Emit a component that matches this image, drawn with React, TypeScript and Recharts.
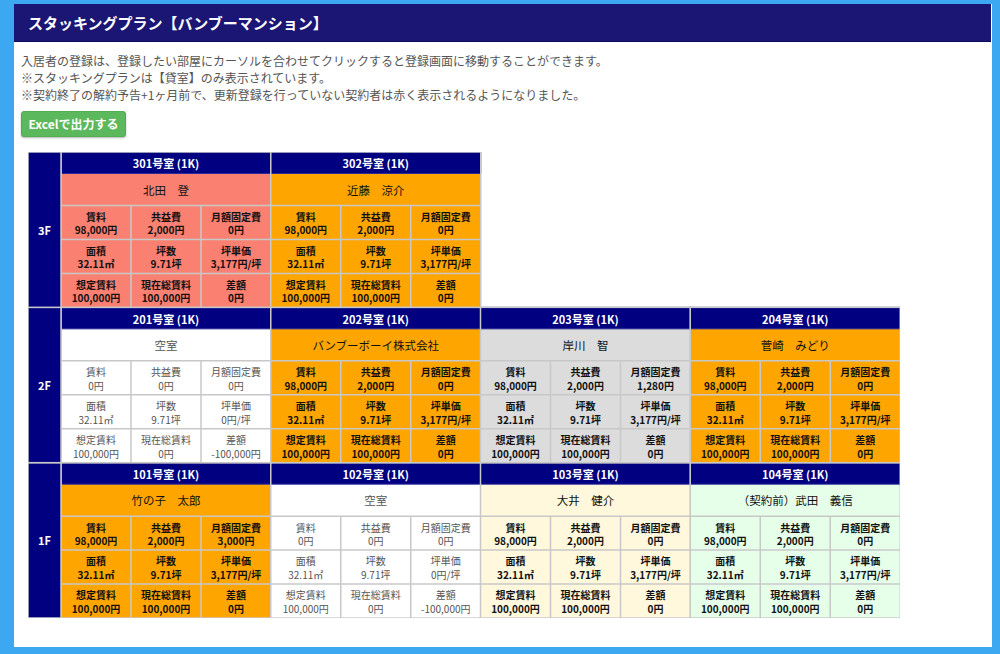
import React from 'react';
import { BarChart, Bar, XAxis, YAxis } from 'recharts';

// ---- data ----
const floorLabels = ['1F', '2F', '3F'];
const columnKeys = ['c1', 'c2', 'c3', 'c4'];

const roomFloor = [3, 3, 2, 2, 2, 2, 1, 1, 1, 1];
const roomCol = [1, 2, 1, 2, 3, 4, 1, 2, 3, 4];
const roomTitles = ['301号室 (1K)', '302号室 (1K)', '201号室 (1K)', '202号室 (1K)', '203号室 (1K)', '204号室 (1K)', '101号室 (1K)', '102号室 (1K)', '103号室 (1K)', '104号室 (1K)'];
const tenants = ['北田　登', '近藤　涼介', '空室', 'バンブーボーイ株式会社', '岸川　智', '菅崎　みどり', '竹の子　太郎', '空室', '大井　健介', '（契約前）武田　義信'];
const statuses = ['alert', 'contract', 'vacant', 'contract', 'other', 'contract', 'contract', 'vacant', 'renewal', 'pre'];
const rents = [98000, 98000, 0, 98000, 98000, 98000, 98000, 0, 98000, 98000];
const commonFees = [2000, 2000, 0, 2000, 2000, 2000, 2000, 0, 2000, 2000];
const fixedFees = [0, 0, 0, 0, 1280, 0, 3000, 0, 0, 0];
const areas = [32.11, 32.11, 32.11, 32.11, 32.11, 32.11, 32.11, 32.11, 32.11, 32.11];
const tsubos = [9.71, 9.71, 9.71, 9.71, 9.71, 9.71, 9.71, 9.71, 9.71, 9.71];
const tsuboPrices = [3177, 3177, 0, 3177, 3177, 3177, 3177, 0, 3177, 3177];
const expectedRents = [100000, 100000, 100000, 100000, 100000, 100000, 100000, 100000, 100000, 100000];
const currentRents = [100000, 100000, 0, 100000, 100000, 100000, 100000, 0, 100000, 100000];
const diffs = [0, 0, -100000, 0, 0, 0, 0, -100000, 0, 0];

const rowLabels = [
  ['賃料', '共益費', '月額固定費'],
  ['面積', '坪数', '坪単価'],
  ['想定賃料', '現在総賃料', '差額'],
];

const statusColors: Record<string, string> = {
  alert: '#FA8072',
  contract: '#FFA500',
  vacant: '#FFFFFF',
  other: '#DCDCDC',
  renewal: '#FFF8DC',
  pre: '#E6FFE9',
};

const chartData = columnKeys.map((c, ci) => {
  const row: any = { col: ci + 1 };
  floorLabels.forEach((_, fi) => {
    const exists = roomFloor.some((f, i) => f === fi + 1 && roomCol[i] === ci + 1);
    row['f' + (fi + 1)] = exists ? 1 : 0;
  });
  return row;
});

// ---- styles ----
const FONT = '"Noto Sans CJK JP", "Noto Sans", sans-serif';
const NAVY = '#000080';
const GRID = '#C8C8C8';
const CHART_W = 872;
const CHART_H = 466;
const YAXIS_W = 33;
const HEADER_H = 21.5;
const NAME_H = 32;

const yen = (v: number) => v.toLocaleString('en-US') + '円';

function RoomBlock(props: any) {
  const { x, y, width, height, payload, floor } = props;
  if (!height || height < 2) return null;
  const idx = roomFloor.findIndex((f, i) => f === floor && roomCol[i] === payload.col);
  if (idx < 0) return null;
  const vacant = statuses[idx] === 'vacant';
  const bg = statusColors[statuses[idx]];
  const txt = vacant ? '#555555' : '#111111';
  const weight = vacant ? 'normal' : 'bold';
  const values = [
    [yen(rents[idx]), yen(commonFees[idx]), yen(fixedFees[idx])],
    [areas[idx].toFixed(2) + '㎡', tsubos[idx].toFixed(2) + '坪', yen(tsuboPrices[idx]) + '/坪'],
    [yen(expectedRents[idx]), yen(currentRents[idx]), yen(diffs[idx])],
  ];
  const bodyTop = y + HEADER_H + NAME_H;
  const rowH = (height - HEADER_H - NAME_H) / 3;
  const cellW = width / 3;
  const els: any[] = [];
  els.push(<rect key="bg" x={x} y={y} width={width} height={height} fill={bg} />);
  els.push(<rect key="hd" x={x} y={y} width={width} height={HEADER_H} fill={NAVY} stroke="#2a2a9a" strokeWidth={1} />);
  els.push(
    <text key="ht" x={x + width / 2} y={y + HEADER_H / 2 + 0.5} textAnchor="middle" dominantBaseline="central" fill="#FFFFFF" fontSize={11} fontWeight="bold" fontFamily={FONT}>
      {roomTitles[idx]}
    </text>
  );
  els.push(
    <text key="nm" x={x + width / 2} y={y + HEADER_H + NAME_H / 2} textAnchor="middle" dominantBaseline="central" fill={txt} fontSize={11.5} fontFamily={FONT}>
      {tenants[idx]}
    </text>
  );
  // horizontal grid lines
  for (let r = 0; r < 3; r++) {
    const ly = bodyTop + r * rowH;
    els.push(<line key={'h' + r} x1={x} x2={x + width} y1={ly} y2={ly} stroke={GRID} strokeWidth={1.5} />);
  }
  for (let c = 1; c < 3; c++) {
    const lx = x + c * cellW;
    els.push(<line key={'v' + c} x1={lx} x2={lx} y1={bodyTop} y2={y + height} stroke={GRID} strokeWidth={1.5} />);
  }
  for (let r = 0; r < 3; r++) {
    for (let c = 0; c < 3; c++) {
      const cx = x + c * cellW + cellW / 2;
      const top = bodyTop + r * rowH;
      els.push(
        <text key={'l' + r + c} x={cx} y={top + rowH * 0.32} textAnchor="middle" dominantBaseline="central" fill={txt} fontSize={10} fontWeight={weight} fontFamily={FONT}>
          {rowLabels[r][c]}
        </text>
      );
      els.push(
        <text key={'val' + r + c} x={cx} y={top + rowH * 0.72} textAnchor="middle" dominantBaseline="central" fill={txt} fontSize={10} fontWeight={weight} fontFamily={FONT}>
          {values[r][c]}
        </text>
      );
    }
  }
  els.push(<rect key="bd" x={x} y={y} width={width} height={height} fill="none" stroke={GRID} strokeWidth={1.5} />);
  return <g>{els}</g>;
}

function FloorTick(props: any) {
  const { x, y, payload } = props;
  const bandH = CHART_H / floorLabels.length;
  const label = floorLabels[Math.floor(payload.value)];
  return (
    <g>
      <rect x={x - YAXIS_W} y={y - bandH / 2} width={YAXIS_W} height={bandH} fill={NAVY} stroke={GRID} strokeWidth={1.5} />
      <text x={x - YAXIS_W / 2} y={y} textAnchor="middle" dominantBaseline="central" fill="#FFFFFF" fontSize={11} fontWeight="bold" fontFamily={FONT}>
        {label}
      </text>
    </g>
  );
}

export default function App() {
  return (
    <div style={{ position: 'fixed', left: 0, top: 0, width: 1000, height: 654, background: '#3DA8F2', fontFamily: FONT, overflow: 'hidden' }}>
      <div style={{ position: 'absolute', left: 14, top: 4, width: 978, height: 643, background: '#FFFFFF' }} />
      <div style={{ position: 'absolute', left: 14, top: 4, width: 977, height: 38, background: '#1B1574', borderBottom: '1px solid #0E0A5E', boxSizing: 'border-box' }} />
      <div style={{ position: 'absolute', left: 28, top: 4, height: 38, lineHeight: '38px', color: '#FFFFFF', fontSize: 15, fontWeight: 'bold' }}>
        スタッキングプラン【バンブーマンション】
      </div>
      <div style={{ position: 'absolute', left: 21, top: 52, fontSize: 12, lineHeight: '17px', color: '#555555', whiteSpace: 'nowrap' }}>
        <div>入居者の登録は、登録したい部屋にカーソルを合わせてクリックすると登録画面に移動することができます。</div>
        <div>※スタッキングプランは【貸室】のみ表示されています。</div>
        <div>※契約終了の解約予告+1ヶ月前で、更新登録を行っていない契約者は赤く表示されるようになりました。</div>
      </div>
      <div style={{ position: 'absolute', left: 21, top: 111, width: 105, height: 26, background: '#5CB85C', border: '1px solid #4CAE4C', borderRadius: 3, boxSizing: 'border-box', color: '#FFFFFF', fontSize: 12, fontWeight: 'bold', lineHeight: '24px', textAlign: 'center', boxShadow: '0 1px 2px rgba(0,0,0,0.3)' }}>
        Excelで出力する
      </div>
      <div style={{ position: 'absolute', left: 28, top: 152 }}>
        <BarChart width={CHART_W} height={CHART_H} data={chartData} margin={{ top: 0, right: 0, bottom: 0, left: 0 }} barCategoryGap={0} barGap={0}>
          <XAxis dataKey="col" type="category" hide />
          <YAxis type="number" domain={[0, 3]} ticks={[0.5, 1.5, 2.5]} interval={0} width={YAXIS_W} axisLine={false} tickLine={false} tickSize={0} tickMargin={0} tick={(p: any) => <FloorTick {...p} />} />
          <Bar dataKey="f1" stackId="s" isAnimationActive={false} shape={(p: any) => <RoomBlock {...p} floor={1} />} />
          <Bar dataKey="f2" stackId="s" isAnimationActive={false} shape={(p: any) => <RoomBlock {...p} floor={2} />} />
          <Bar dataKey="f3" stackId="s" isAnimationActive={false} shape={(p: any) => <RoomBlock {...p} floor={3} />} />
        </BarChart>
      </div>
    </div>
  );
}
